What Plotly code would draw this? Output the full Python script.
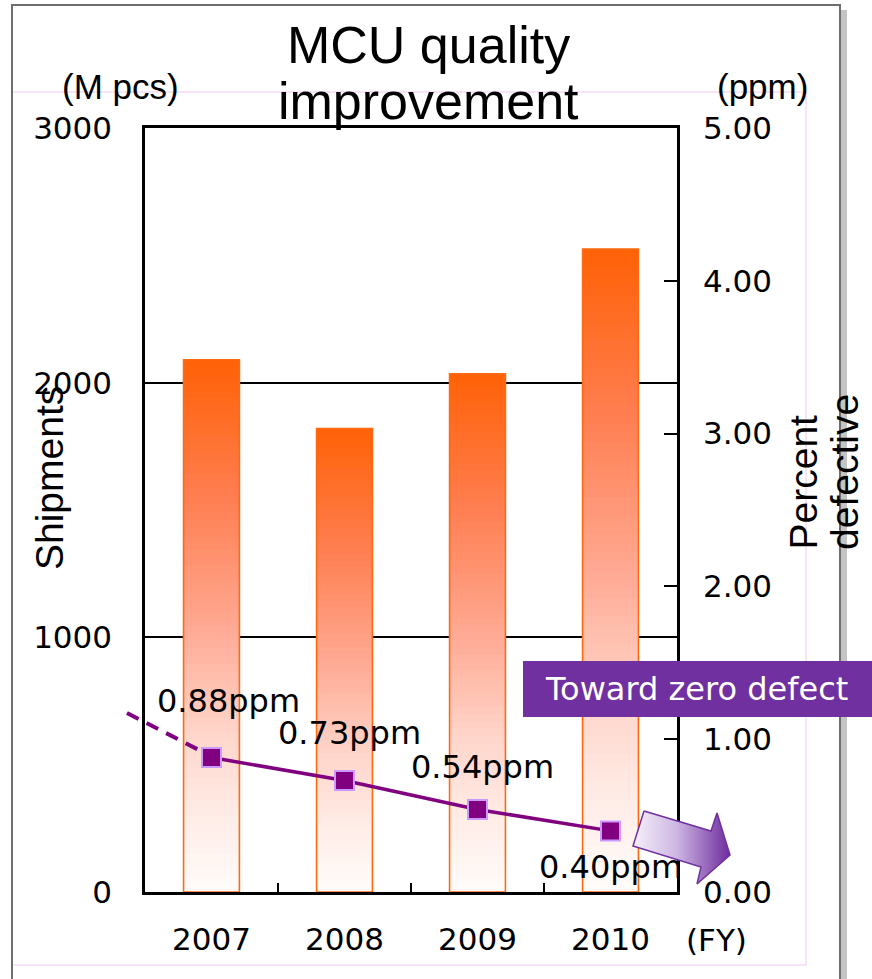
import plotly.graph_objects as go

# ---------------- data ----------------
years = ["2007", "2008", "2009", "2010"]
shipments = [2090, 1820, 2035, 2525]          # M pcs (left axis)
defect_ppm = [0.88, 0.73, 0.54, 0.40]         # ppm (right axis)
left_ticks = [0, 1000, 2000, 3000]
right_ticks = [0, 1, 2, 3, 4, 5]

# ---------------- helpers ----------------
W, H = 872, 979


def px(x):
    return x / W


def py(y):
    return 1 - y / H


def grad(f):
    stops = [(0.0, (255, 253, 251)), (0.15, (255, 236, 231)), (0.3, (255, 214, 203)),
             (0.5, (255, 170, 148)), (0.75, (255, 126, 80)), (1.0, (255, 98, 8))]
    for (f0, c0), (f1, c1) in zip(stops[:-1], stops[1:]):
        if f <= f1:
            t = (f - f0) / (f1 - f0)
            c = [round(a + (b - a) * t) for a, b in zip(c0, c1)]
            return "rgb(%d,%d,%d)" % tuple(c)
    return "rgb(255,98,8)"


fig = go.Figure()

BAR_W = 0.42
N = 70
for k in range(N, 0, -1):
    fig.add_trace(go.Bar(
        x=years, y=[v * k / N for v in shipments], base=0,
        width=BAR_W, marker=dict(color=grad(k / N), line=dict(width=0)),
        hoverinfo="skip", showlegend=False))
# bar outline
fig.add_trace(go.Bar(
    x=years, y=shipments, width=BAR_W,
    marker=dict(color="rgba(0,0,0,0)", line=dict(color="#FF6A10", width=1.6)),
    showlegend=False))

# defect line
fig.add_trace(go.Scatter(
    x=years, y=defect_ppm, yaxis="y2", mode="lines+markers",
    line=dict(color="#800080", width=3.5),
    marker=dict(symbol="square", size=19, color="#800080",
                line=dict(color="#CC99FF", width=2)),
    showlegend=False, cliponaxis=False))

# arrow (decoration) on a hidden full-page axis pair
arrow_x = [644, 711, 717, 730, 697, 701, 633, 644]
arrow_y = [811, 831, 813, 855, 884, 867, 846, 811]
fig.add_trace(go.Scatter(
    x=arrow_x, y=arrow_y, xaxis="x3", yaxis="y3", mode="lines",
    fill="toself",
    fillgradient=dict(type="horizontal",
                      colorscale=[[0, "#F6F0FB"], [0.45, "#CDB6E2"], [1, "#6E2C9E"]]),
    line=dict(color="#7030A0", width=1.5), hoverinfo="skip", showlegend=False))

tick_font = dict(family="DejaVu Sans", size=31, color="black")
label_font = dict(family="Liberation Sans", size=39, color="black")

fig.update_layout(
    width=W, height=H, autosize=False,
    margin=dict(l=0, r=0, t=0, b=0, pad=0, autoexpand=False),
    paper_bgcolor="white", plot_bgcolor="rgba(0,0,0,0)",
    barmode="overlay", showlegend=False,
    xaxis=dict(type="category", domain=[px(145), px(677)], range=[-0.5, 3.5],
               showline=True, linecolor="black", linewidth=2.5, mirror=True,
               ticks="inside", tickson="boundaries", ticklen=9, tickwidth=2,
               tickcolor="black", showgrid=False, zeroline=False, automargin=False,
               tickfont=tick_font, ticklabelstandoff=18),
    yaxis=dict(domain=[py(892), py(128)], range=[0, 3000], tickvals=left_ticks,
               showline=True, linecolor="black", linewidth=2.5, mirror=True,
               showgrid=True, gridcolor="black", gridwidth=1.6, zeroline=False,
               automargin=False, ticks="", tickfont=tick_font, ticklabelstandoff=24),
    yaxis2=dict(overlaying="y", side="right", range=[0, 5], tickvals=right_ticks,
                tickformat=".2f", showline=True, linecolor="black", linewidth=2.5,
                ticks="inside", ticklen=13, tickwidth=2, tickcolor="black",
                showgrid=False, zeroline=False, tickfont=tick_font, automargin=False,
                ticklabelstandoff=17),
    xaxis3=dict(domain=[0, 1], range=[0, W], visible=False, anchor="y3",
                automargin=False),
    yaxis3=dict(domain=[0, 1], range=[H, 0], visible=False, anchor="x3",
                automargin=False),
)

shapes = [
    # right shadow of frame
    dict(type="rect", xref="paper", yref="paper", x0=px(840), x1=px(847),
         y0=py(10), y1=py(985), fillcolor="#C4C4C4", line=dict(width=0), layer="below"),
    # pink inner frame
    dict(type="rect", xref="paper", yref="paper", x0=px(12), x1=px(806),
         y0=py(92), y1=py(965), line=dict(color="#F6DAF6", width=1.5), layer="below"),
    # outer frame
    dict(type="rect", xref="paper", yref="paper", x0=px(12), x1=px(840),
         y0=py(5), y1=py(990), line=dict(color="#6E6E6E", width=2), layer="below"),
    # dashed trend extension
    dict(type="line", xref="paper", yref="paper", x0=px(127), y0=py(713),
         x1=px(199), y1=py(750), line=dict(color="#800080", width=4, dash="13px,9px")),
    # "Toward zero defect" box
    dict(type="rect", xref="paper", yref="paper", x0=px(523), x1=px(872),
         y0=py(661), y1=py(717), fillcolor="#7030A0", line=dict(width=0)),
]
fig.update_layout(shapes=shapes)

ann = []


def add_text(text, x, y, font, xanchor="center", yanchor="middle", **kw):
    ann.append(dict(text=text, xref="paper", yref="paper", x=px(x), y=py(y),
                    xanchor=xanchor, yanchor=yanchor,
                    showarrow=False, font=font, **kw))


title_font = dict(family="Liberation Sans", size=52, color="black")
add_text("MCU quality", 428, 45, title_font)
add_text("improvement", 428, 101, title_font)
add_text("(M pcs)", 120, 86, dict(family="Liberation Sans", size=35, color="black"))
add_text("(ppm)", 762, 86, dict(family="Liberation Sans", size=35, color="black"))
add_text("Shipments", 49, 478, label_font, textangle=-90)
add_text("Percent", 803, 552, label_font, textangle=-90, yanchor="bottom")
add_text("defective", 844, 552, label_font, textangle=-90, yanchor="bottom")
add_text("(FY)", 716, 940, tick_font)
add_text("Toward zero defect", 696, 689,
         dict(family="DejaVu Sans", size=32, color="white"))

# value labels on the defect line (x given as category index)
label_dx = [17, 5, 5, 0]
label_dy = [57, 47, 42, -36]
for i, (v, dx, dy) in enumerate(zip(defect_ppm, label_dx, label_dy)):
    ann.append(dict(text=f"{v:.2f}ppm", x=i, y=v, xref="x", yref="y2",
                    xanchor="center", yanchor="middle",
                    xshift=dx, yshift=dy, showarrow=False,
                    font=dict(family="DejaVu Sans", size=32, color="black")))

fig.update_layout(annotations=ann)

fig.write_html("out.html",
               config={"displayModeBar": False},
               post_script="document.body.style.margin='0';"
                           "document.body.style.overflow='hidden';")
